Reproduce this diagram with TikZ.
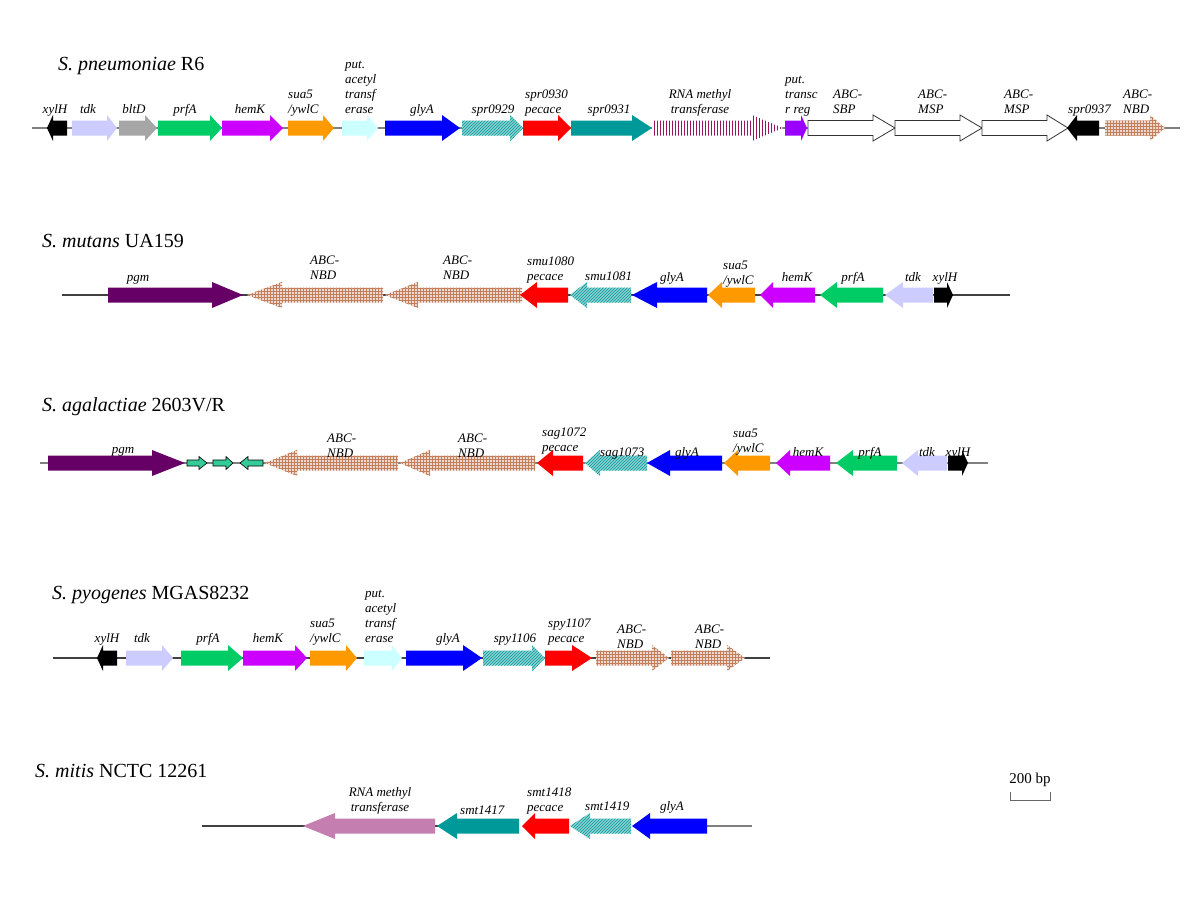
\documentclass[tikz,border=0pt]{standalone}
\usepackage{fontspec}
\setmainfont{Liberation Serif}
\usetikzlibrary{patterns}
\definecolor{ctdk}{HTML}{CCCCFF}
\definecolor{cblt}{HTML}{A6A6A6}
\definecolor{cprf}{HTML}{00CC66}
\definecolor{chem}{HTML}{CC00FF}
\definecolor{csua}{HTML}{FF9900}
\definecolor{cace}{HTML}{CCFFFF}
\definecolor{cgly}{HTML}{0000FF}
\definecolor{cteal}{HTML}{009999}
\definecolor{cred}{HTML}{FF0000}
\definecolor{crmt}{HTML}{99165E}
\definecolor{creg}{HTML}{9900FF}
\definecolor{cnbd}{HTML}{B8683F}
\definecolor{cpgm}{HTML}{660066}
\definecolor{csmall}{HTML}{33CC99}
\definecolor{cmauve}{HTML}{C47FB0}
\newcounter{labn}
\def\gbh{7.5}\def\ghh{13}
\newcommand\gfwd[5][]{\path[#1] (#2,#5-\gbh) -- (#3,#5-\gbh) -- (#3,#5-\ghh) -- (#4,#5) -- (#3,#5+\ghh) -- (#3,#5+\gbh) -- (#2,#5+\gbh) -- cycle;}
\newcommand\grev[5][]{\path[#1] (#2,#5) -- (#3,#5-\ghh) -- (#3,#5-\gbh) -- (#4,#5-\gbh) -- (#4,#5+\gbh) -- (#3,#5+\gbh) -- (#3,#5+\ghh) -- cycle;}
\newcommand\genelab[4][]{\stepcounter{labn}\node[glab,anchor=south,#1] (L\arabic{labn}) at (#2,#3+4.5) {#4\strut};}
\newcommand\glabfont{\fontsize{13}{15}\selectfont\itshape}
\tikzset{
  glab/.style={font=\glabfont, inner sep=0pt, align=left},
  ttl/.style={font=\fontsize{20}{24}\selectfont, inner sep=0pt, anchor=base west},
  tline/.style={draw=black!75, line width=1.1pt},
  gline/.style={draw=black!50, line width=1.1pt},
  hteal/.style={fill=cteal!45!white, postaction={pattern=north east lines, pattern color=cteal}},
  nbd/.style={fill=cnbd!25!white, postaction={pattern=grid, pattern color=cnbd!85!white}},
  rmt/.style={fill=white, postaction={pattern=vertical lines, pattern color=crmt}},
  wbox/.style={fill=white, draw=black!80, line width=0.8pt},
  sgene/.style={fill=csmall, draw=black, line width=0.6pt},
}
\begin{document}
\begin{tikzpicture}[x=1pt,y=-1pt]
\useasboundingbox (0,0) rectangle (1200,900);
% ---------- S. pneumoniae R6 ----------
\node[ttl] (t1) at (58,70) {\textit{S. pneumoniae} R6};
\draw[gline] (32,128) -- (1180,128);
\grev[fill=black]{47}{53}{67}{128}
\gfwd[fill=ctdk]{72}{107}{117}{128}
\gfwd[fill=cblt]{119}{145}{157}{128}
\gfwd[fill=cprf]{158}{210}{222}{128}
\gfwd[fill=chem]{222}{270}{283}{128}
\gfwd[fill=csua]{288}{323}{334}{128}
\gfwd[fill=cace]{342}{367}{378}{128}
\gfwd[fill=cgly]{385}{442}{460}{128}
\gfwd[hteal]{462}{510}{523}{128}
\gfwd[fill=cred]{523}{558}{571}{128}
\gfwd[fill=cteal]{571}{632}{652}{128}
\gfwd[rmt]{652}{752}{783}{128}
\gfwd[fill=creg]{785}{801}{807}{128}
\gfwd[wbox]{808}{873}{895}{128}
\gfwd[wbox]{895}{960}{982}{128}
\gfwd[wbox]{982}{1047}{1068}{128}
\grev[fill=black]{1067}{1077}{1099}{128}
\gfwd[nbd]{1105}{1150}{1165}{128}
\genelab{55}{114}{xylH}
\genelab{88}{114}{tdk}
\genelab{134}{114}{bltD}
\genelab{185}{114}{prfA}
\genelab{250}{114}{hemK}
\genelab[anchor=south west]{288}{114}{sua5\\/ywlC}
\genelab[anchor=south west]{345}{114}{put.\\acetyl\\transf\\erase}
\genelab{422}{114}{glyA}
\genelab{493}{114}{spr0929}
\genelab[anchor=south west]{525}{114}{spr0930\\pecace}
\genelab{609}{114}{spr0931}
\genelab[align=center]{700}{114}{RNA methyl\\transferase}
\genelab[anchor=south west]{785}{114}{put.\\transc\\r reg}
\genelab[anchor=south west]{833}{114}{ABC-\\SBP}
\genelab[anchor=south west]{918}{114}{ABC-\\MSP}
\genelab[anchor=south west]{1004}{114}{ABC-\\MSP}
\genelab[anchor=south west]{1068}{114}{spr0937}
\genelab[anchor=south west]{1123}{114}{ABC-\\NBD}
% ---------- S. mutans UA159 ----------
\node[ttl] (t2) at (42,247) {\textit{S. mutans} UA159};
\draw[tline] (62,295) -- (1010,295);
\gfwd[fill=cpgm]{108}{212}{243}{295}
\grev[nbd]{247}{282}{383}{295}
\grev[nbd]{385}{418}{522}{295}
\grev[fill=cred]{520}{537}{568}{295}
\grev[hteal]{570}{587}{631}{295}
\grev[fill=cgly]{632}{657}{707}{295}
\grev[fill=csua]{708}{722}{755}{295}
\grev[fill=chem]{760}{773}{815}{295}
\grev[fill=cprf]{820}{837}{883}{295}
\grev[fill=ctdk]{885}{903}{933}{295}
\gfwd[fill=black]{934}{947}{953}{295}
\genelab{138}{282}{pgm}
\genelab[anchor=south west]{310}{280}{ABC-\\NBD}
\genelab[anchor=south west]{443}{280}{ABC-\\NBD}
\genelab[anchor=south west]{527}{281}{smu1080\\pecace}
\genelab[anchor=south west]{585}{281}{smu1081}
\genelab{672}{282}{glyA}
\genelab[anchor=south west]{723}{285}{sua5\\/ywlC}
\genelab{797}{282}{hemK}
\genelab{853}{282}{prfA}
\genelab{913}{282}{tdk}
\genelab{945}{282}{xylH}
% ---------- S. agalactiae 2603V/R ----------
\node[ttl] (t3) at (42,411) {\textit{S. agalactiae} 2603V/R};
\draw[gline] (40,463) -- (988,463);
\gfwd[fill=cpgm]{48}{152}{185}{463}
{\def\gbh{3}\def\ghh{6.5}
\gfwd[sgene]{187}{199}{207}{463}
\gfwd[sgene]{213}{226}{233}{463}
\grev[sgene]{240}{248}{263}{463}
}
\grev[nbd]{265}{297}{398}{463}
\grev[nbd]{400}{430}{535}{463}
\grev[fill=cred]{537}{553}{583}{463}
\grev[hteal]{585}{600}{647}{463}
\grev[fill=cgly]{647}{670}{722}{463}
\grev[fill=csua]{724}{738}{770}{463}
\grev[fill=chem]{776}{790}{830}{463}
\grev[fill=cprf]{836}{853}{897}{463}
\grev[fill=ctdk]{902}{918}{947}{463}
\gfwd[fill=black]{948}{962}{968}{463}
\genelab{123}{454}{pgm}
\genelab[anchor=south west]{327}{458}{ABC-\\NBD}
\genelab[anchor=south west]{458}{458}{ABC-\\NBD}
\genelab[anchor=south west]{542}{452}{sag1072\\pecace}
\genelab[anchor=south west]{600}{457}{sag1073}
\genelab{687}{457}{glyA}
\genelab[anchor=south west]{733}{453}{sua5\\/ywlC}
\genelab{808}{457}{hemK}
\genelab{870}{457}{prfA}
\genelab{927}{457}{tdk}
\genelab{958}{457}{xylH}
% ---------- S. pyogenes MGAS8232 ----------
\node[ttl] (t4) at (52,599) {\textit{S. pyogenes} MGAS8232};
\draw[tline] (53,658) -- (770,658);
\grev[fill=black]{97}{103}{117}{658}
\gfwd[fill=ctdk]{126}{162}{173}{658}
\gfwd[fill=cprf]{181}{228}{243}{658}
\gfwd[fill=chem]{243}{295}{307}{658}
\gfwd[fill=csua]{310}{346}{357}{658}
\gfwd[fill=cace]{364}{392}{402}{658}
\gfwd[fill=cgly]{406}{463}{482}{658}
\gfwd[hteal]{483}{532}{545}{658}
\gfwd[fill=cred]{545}{572}{592}{658}
\gfwd[nbd]{596}{652}{669}{658}
\gfwd[nbd]{671}{727}{745}{658}
\genelab{107}{643}{xylH}
\genelab{142}{643}{tdk}
\genelab{208}{643}{prfA}
\genelab{268}{643}{hemK}
\genelab[anchor=south west]{310}{643}{sua5\\/ywlC}
\genelab[anchor=south west]{365}{643}{put.\\acetyl\\transf\\erase}
\genelab{448}{643}{glyA}
\genelab{515}{643}{spy1106}
\genelab[anchor=south west]{548}{643}{spy1107\\pecace}
\genelab[anchor=south west]{617}{649}{ABC-\\NBD}
\genelab[anchor=south west]{695}{649}{ABC-\\NBD}
% ---------- S. mitis NCTC 12261 ----------
\node[ttl] (t5) at (35,777) {\textit{S. mitis} NCTC 12261};
\draw[tline] (202,826) -- (440,826);
\draw[gline] (700,826) -- (752,826);
\grev[fill=cmauve]{303}{335}{435}{826}
\grev[fill=cteal]{437}{457}{519}{826}
\grev[fill=cred]{522}{535}{569}{826}
\grev[hteal]{570}{590}{631}{826}
\grev[fill=cgly]{632}{650}{707}{826}
\genelab[align=center]{380}{812}{RNA methyl\\transferase}
\genelab[anchor=south west]{460}{815}{smt1417}
\genelab[anchor=south west]{527}{812}{smt1418\\pecace}
\genelab[anchor=south west]{585}{811}{smt1419}
\genelab{672}{811}{glyA}
% ---------- scale bar ----------
\coordinate (sb1) at (1010,792);
\coordinate (sb2) at (1050,792);
\draw[draw=black!60, line width=1pt] (sb1) -- ++(0,8) -| (sb2);
\node[font=\fontsize{15}{18}\selectfont, inner sep=0pt, anchor=base] (sbl) at (1030,783) {200 bp};
\end{tikzpicture}
\end{document}
